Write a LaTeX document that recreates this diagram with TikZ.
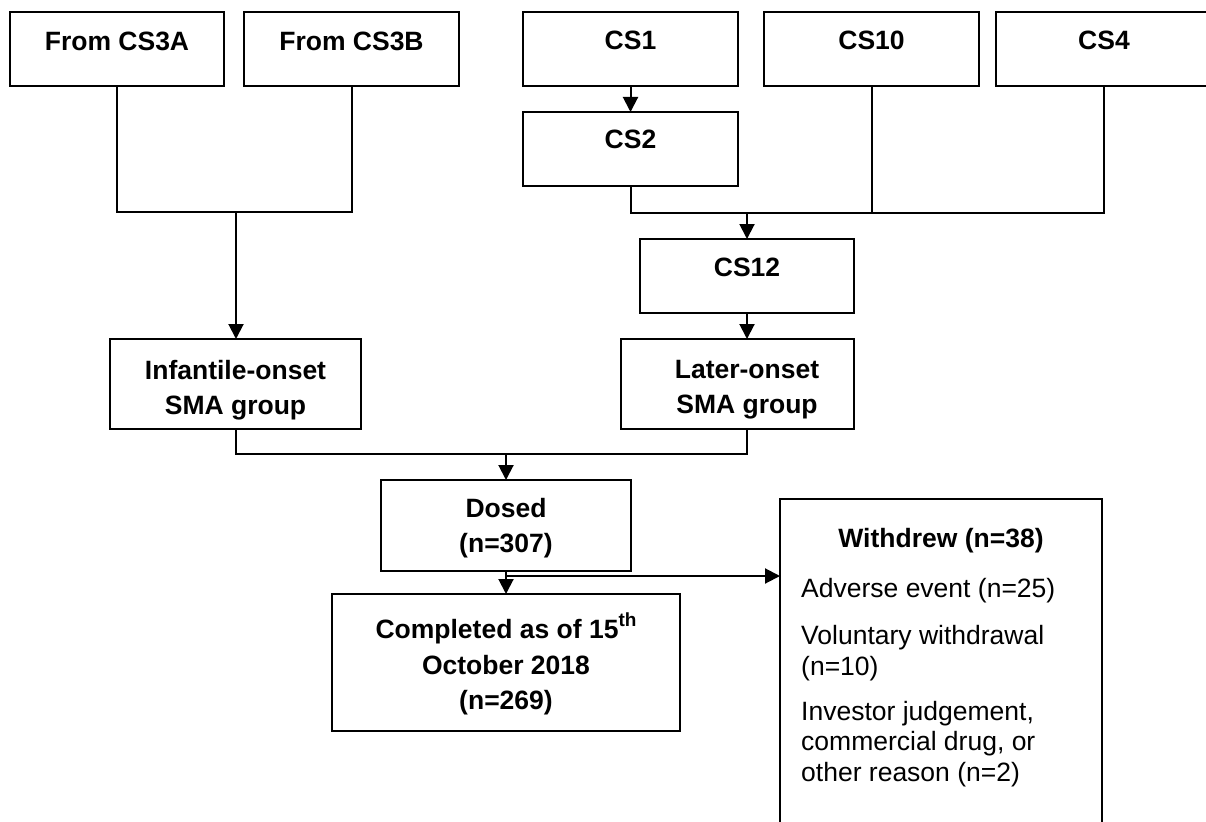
\documentclass[tikz,border=0pt]{standalone}
\usepackage{fontspec}
\setmainfont{Liberation Sans}
\usetikzlibrary{arrows.meta}
\begin{document}
\begin{tikzpicture}[x=1pt,y=-1pt,
  box/.style={draw,line width=2pt,inner sep=0pt,outer sep=0pt},
  lbl/.style={inner sep=0pt,anchor=north,align=center,
    font=\fontsize{26.5}{35.5}\selectfont\bfseries},
  body/.style={inner sep=0pt,anchor=north west,align=left,
    font=\fontsize{26.5}{30.5}\selectfont},
  link/.style={line width=2pt},
  arr/.style={link,-{Triangle[length=15pt,width=15pt]}}]
\useasboundingbox (0,0) rectangle (1206,821);
\fill[white] (0,0) rectangle (1206,821);

% study boxes
\node[box,minimum width=214pt,minimum height=74pt] (a3A) at (117,49) {};
\node[box,minimum width=215pt,minimum height=74pt] (a3B) at (351.5,49) {};
\node[box,minimum width=215pt,minimum height=74pt] (cs1) at (630.5,49) {};
\node[box,minimum width=215pt,minimum height=74pt] (cs10) at (871.5,49) {};
\node[box,minimum width=216pt,minimum height=74pt] (cs4) at (1104,49) {};
\node[box,minimum width=215pt,minimum height=74pt] (cs2) at (630.5,149) {};
\node[box,minimum width=214pt,minimum height=74pt] (cs12) at (747,276) {};
\node[box,minimum width=251pt,minimum height=90pt] (inf) at (235.5,384) {};
\node[box,minimum width=233pt,minimum height=90pt] (lat) at (737.5,384) {};
\node[box,minimum width=250pt,minimum height=91pt] (dosed) at (506,525.5) {};
\node[box,minimum width=348pt,minimum height=137pt] (comp) at (506,662.5) {};
\node[box,minimum width=322pt,minimum height=341pt] (wd) at (941,669.5) {};

% box texts
\node[lbl] (t3A) at (117,32) {From CS3A};
\node[lbl] (t3B) at (351.5,32) {From CS3B};
\node[lbl] (t1) at (630.5,31) {CS1};
\node[lbl] (t10) at (871.5,31) {CS10};
\node[lbl] (t4) at (1104,31) {CS4};
\node[lbl] (t2) at (630.5,130) {CS2};
\node[lbl] (t12) at (747,258) {CS12};
\node[lbl] (tinf) at (235.5,360) {Infantile-onset\\SMA group};
\node[lbl] (tlat) at (747,360) {Later-onset\\SMA group};
\node[lbl] (tdosed) at (506,498) {Dosed\\(n=307)};
\node[lbl] (tcomp) at (506,613) {Completed as of 15\raisebox{12pt}{\fontsize{19}{19}\selectfont th}\\October 2018\\(n=269)};
\node[lbl] (twd) at (941,528) {Withdrew (n=38)};
\node[body] (twdb) at (801,578) {Adverse event (n=25)\\[17pt]Voluntary withdrawal\\(n=10)\\[14.5pt]Investor judgement,\\commercial drug, or\\other reason (n=2)};

% junction points
\coordinate (j1) at (236,212);
\coordinate (j2) at (747,213);
\coordinate (j3) at (506,454);
\coordinate (j4) at (506,576);

% connectors
\draw[link] (a3A.south) |- (j1) -| (a3B.south);
\draw[arr] (j1) -- (j1 |- inf.north);
\draw[arr] (cs1.south) -- (cs2.north);
\draw[link] (cs2.south) |- (j2) -| (cs4.south);
\draw[link] (cs10.south) -- (cs10.south |- j2);
\draw[arr] (j2) -- (j2 |- cs12.north);
\draw[arr] (cs12.south) -- (cs12.south |- lat.north);
\draw[link] (inf.south) |- (j3) -| (lat.south -| cs12.south);
\draw[arr] (j3) -- (dosed.north);
\draw[arr] (dosed.south) -- (comp.north);
\draw[arr] (j4) -- (j4 -| wd.west);
\end{tikzpicture}
\end{document}
